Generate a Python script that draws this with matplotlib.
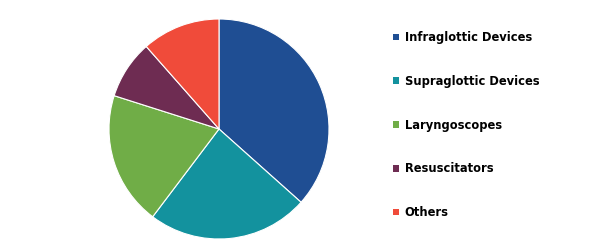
import matplotlib
matplotlib.use("Agg")
import matplotlib.pyplot as plt

categories = ["Infraglottic Devices", "Supraglottic Devices", "Laryngoscopes", "Resuscitators", "Others"]
values = [36.6, 23.7, 19.6, 8.6, 11.5]
colors = ["#1F4E93", "#13929E", "#70AD47", "#6E2C52", "#F04B3A"]

fig = plt.figure(figsize=(5.9, 2.49), dpi=100)
ax = fig.add_axes([109/590, 10/249, 220/590, 220/249])
wedges, _ = ax.pie(values, colors=colors, startangle=90, counterclock=False,
                   wedgeprops=dict(edgecolor="white", linewidth=0.8))
ax.set_aspect("equal")
ax.set_xlim(-1, 1)
ax.set_ylim(-1, 1)

leg = fig.legend(wedges, categories, loc="upper left",
                 bbox_to_anchor=(393/590, 1 - 31/249),
                 frameon=False,
                 prop=dict(family="DejaVu Sans", weight="bold", size=8.3),
                 handlelength=0.52, handleheight=0.52, handletextpad=0.5,
                 labelspacing=2.67, borderaxespad=0, borderpad=0)
for h in leg.legend_handles:
    h.set_edgecolor("none")

fig.savefig("out.png", dpi=100)
